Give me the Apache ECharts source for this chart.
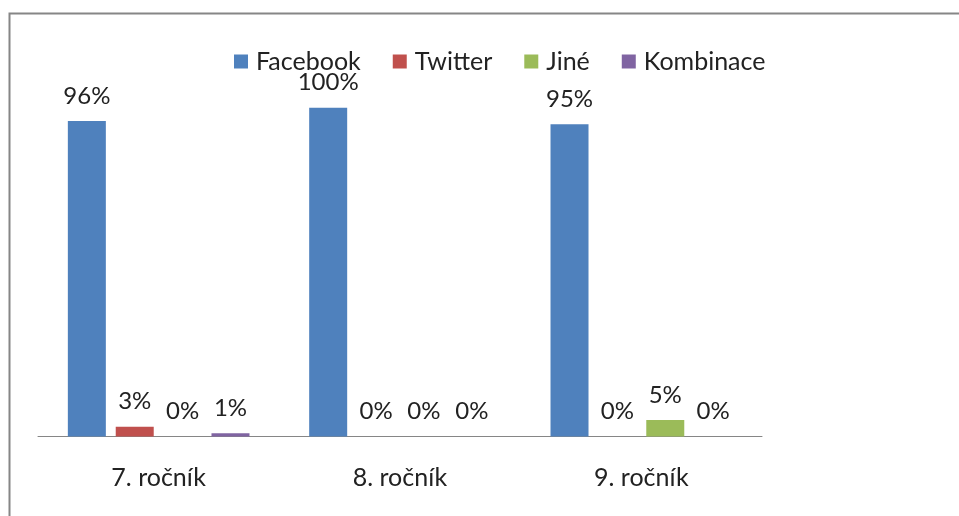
<!DOCTYPE html>
<html>
<head>
<meta charset="utf-8">
<script src="https://cdn.jsdelivr.net/npm/echarts@6/dist/echarts.min.js"></script>
<style>
html,body{margin:0;padding:0;background:#fff;}
#c{width:959px;height:516px;}
</style>
</head>
<body>
<div id="c"></div>
<script>
const categories = ['7. ročník', '8. ročník', '9. ročník'];
const seriesNames = ['Facebook', 'Twitter', 'Jiné', 'Kombinace'];
const facebook = [96, 100, 95];
const twitter = [3, 0, 0];
const jine = [0, 0, 5];
const kombinace = [1, 0, 0];
const colors = ['#4F81BD', '#C0504D', '#9BBB59', '#8064A2'];

const values = [facebook, twitter, jine, kombinace];
const FONT = 'Lato';
const TXT = '#222';

const chart = echarts.init(document.getElementById('c'), null, {renderer: 'canvas'});
chart.setOption({
  animation: false,
  backgroundColor: '#fff',
  graphic: [{
    type: 'rect',
    shape: {x: 9.5, y: 13.5, width: 1000, height: 600},
    style: {fill: 'none', stroke: '#868686', lineWidth: 2},
    silent: true
  }],
  legend: {
    left: 229,
    top: 44,
    itemWidth: 14,
    itemHeight: 14,
    itemGap: 32,
    icon: 'rect',
    textStyle: {fontFamily: FONT, fontSize: 25, color: TXT, padding: [0, 0, 0, 3]},
    data: seriesNames
  },
  grid: {left: 38, right: 197, top: 42, bottom: 79.5, containLabel: false},
  xAxis: {
    type: 'category',
    data: categories,
    axisTick: {show: false},
    axisLine: {lineStyle: {color: '#868686', width: 1}},
    axisLabel: {fontFamily: FONT, fontSize: 25, color: TXT, margin: 29}
  },
  yAxis: {
    type: 'value', min: 0, max: 120, show: false,
    splitLine: {show: false}
  },
  series: seriesNames.map((name, i) => ({
    name: name,
    type: 'bar',
    data: values[i],
    barWidth: 38,
    barGap: '26%',
    barCategoryGap: '24.5%',
    itemStyle: {color: colors[i]},
    label: {
      show: true, position: 'top', distance: 13,
      formatter: '{c}%',
      fontFamily: FONT, fontSize: 24, color: TXT
    }
  }))
});
</script>
</body>
</html>
